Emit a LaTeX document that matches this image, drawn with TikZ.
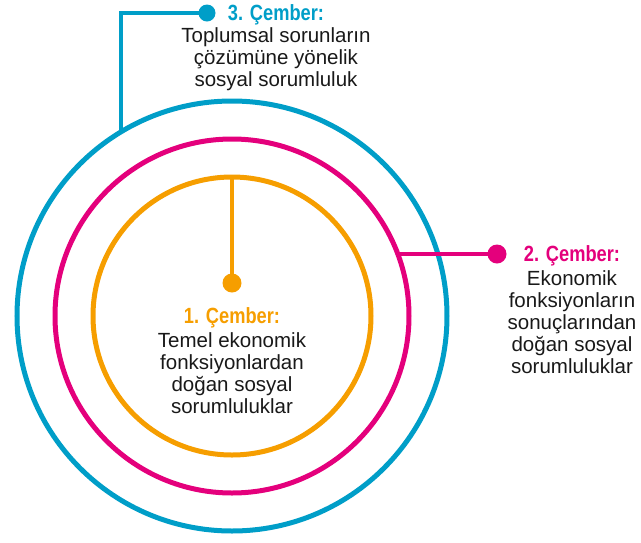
\documentclass[tikz,border=0pt]{standalone}
\usepackage{fontspec}
\setmainfont{Liberation Sans}
\newfontfamily\cemberfont[FakeStretch=0.83]{Liberation Sans}
\definecolor{ringorange}{RGB}{246,158,0}
\definecolor{ringpink}{RGB}{228,0,124}
\definecolor{ringblue}{RGB}{0,158,200}
\tikzset{
  ring/.style={circle,draw=#1,line width=5pt,inner sep=0pt,outer sep=0pt},
  leaddot/.style={circle,fill=#1,inner sep=0pt,minimum size=19pt},
  lead/.style={draw=#1,line width=4pt},
  ringtext/.style={align=center,font=\fontsize{20.5}{22}\selectfont,inner sep=0pt,text=black!90}
}
\newcommand{\cember}[2]{{\cemberfont\fontsize{22}{22}\selectfont\bfseries\color{#1}#2}}

\begin{document}
\begin{tikzpicture}[x=1pt,y=-1pt]
  \useasboundingbox (0,0) rectangle (641,542);

  %%%%% rings %%%%%
  \node[ring=ringblue,minimum size=430pt] (c3) at (232,316) {};
  \node[ring=ringpink,minimum size=354pt] (c2) at (232,316) {};
  \node[ring=ringorange,minimum size=278pt] (c1) at (232,316) {};

  %%%%% dots and leads %%%%%
  \node[leaddot=ringorange] (d1) at (232,283) {};
  \node[leaddot=ringpink] (d2) at (497,254) {};
  \node[leaddot=ringblue,minimum size=17pt] (d3) at (207,13) {};

  \draw[lead=ringorange] (c1.north) -- (d1.center);
  \draw[lead=ringpink] (c2.20.5 |- d2) -- (d2.center);
  \draw[lead=ringblue] (c3.121.7) |- (d3.center);

  %%%%% labels %%%%%
  \node[ringtext,anchor=north] (t3) at (276,4) {\cember{ringblue}{3. Çember:}\\Toplumsal sorunların\\çözümüne yönelik\\sosyal sorumluluk};
  \node[ringtext,anchor=north] (t2) at (572,245) {\cember{ringpink}{2. Çember:}\\[2pt]Ekonomik\\fonksiyonların\\sonuçlarından\\doğan sosyal\\sorumluluklar};
  \node[ringtext,anchor=north] (t1) at (232,307) {\cember{ringorange}{1. Çember:}\\[2pt]Temel ekonomik\\fonksiyonlardan\\doğan sosyal\\sorumluluklar};
\end{tikzpicture}
\end{document}
